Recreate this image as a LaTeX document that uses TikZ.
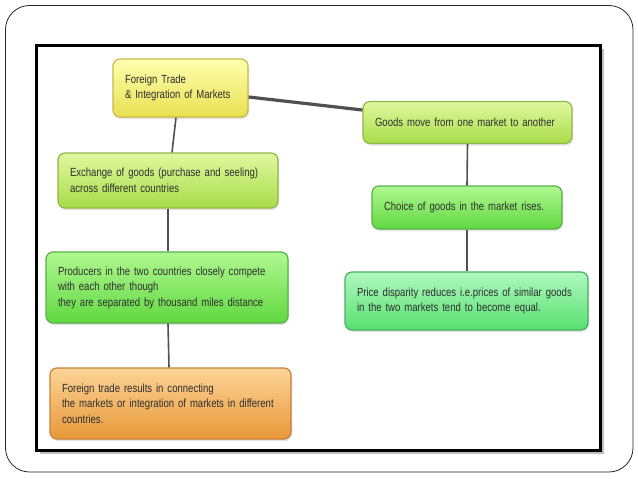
\documentclass[tikz,border=0pt]{standalone}
\usepackage{fontspec}
\setmainfont{Liberation Sans}[FakeStretch=0.81, WordSpace=0.7]
\usetikzlibrary{shadows}
\definecolor{txt}{HTML}{2E2E2E}
\definecolor{conn}{HTML}{505050}
\definecolor{yT}{HTML}{FFFFB0}\definecolor{yM}{HTML}{F8F478}\definecolor{yB}{HTML}{E8E050}\definecolor{yD}{HTML}{C8B848}
\definecolor{lT}{HTML}{E0F8A0}\definecolor{lM}{HTML}{C4EC74}\definecolor{lB}{HTML}{A8DC48}\definecolor{lD}{HTML}{90B848}
\definecolor{gT}{HTML}{B0F890}\definecolor{gM}{HTML}{80E860}\definecolor{gB}{HTML}{60D840}\definecolor{gD}{HTML}{58B048}
\definecolor{mT}{HTML}{B0F8C0}\definecolor{mM}{HTML}{80F090}\definecolor{mB}{HTML}{58E070}\definecolor{mD}{HTML}{48B060}
\definecolor{oT}{HTML}{FCD498}\definecolor{oM}{HTML}{F4B060}\definecolor{oB}{HTML}{E89838}\definecolor{oD}{HTML}{C88038}
\newcommand{\oneline}[1]{\mbox{#1}}
\tikzset{
  box/.style={rounded corners=7pt, line width=1.2pt, align=left, inner xsep=12pt, inner ysep=2pt,
    font=\fontsize{11.8}{15.5}\selectfont, text=txt,
    drop shadow={opacity=0.22, shadow xshift=1pt, shadow yshift=-2pt}},
  yel/.style={box, draw=yD, top color=yT, middle color=yM, bottom color=yB},
  lime/.style={box, draw=lD, top color=lT, middle color=lM, bottom color=lB},
  gre/.style={box, draw=gD, top color=gT, middle color=gM, bottom color=gB},
  mint/.style={box, draw=mD, top color=mT, middle color=mM, bottom color=mB},
  ora/.style={box, draw=oD, top color=oT, middle color=oM, bottom color=oB},
  link/.style={draw=conn, line width=1.6pt},
  thick link/.style={draw=conn, line width=3.2pt},
}
\begin{document}
\hbadness=10000 \hfuzz=200pt
\begin{tikzpicture}[x=1pt,y=-1pt]
\useasboundingbox (0,0) rectangle (638,479);
\fill[white] (0,0) rectangle (638,479);
% outer rounded frame
\draw[line width=0.8pt, draw=black!85, rounded corners=24pt] (5.5,5.5) rectangle (633,472);
% inner black frame with shadow
\fill[black!25] (40,49) rectangle (604,454);
\fill[white] (36,45) rectangle (600,450);
\draw[line width=3pt, black] (36,45) rectangle (600,450);

\node[yel, text width=111pt, minimum height=58pt] (ft) at (180.5,88) {\oneline{Foreign Trade}\\\oneline{\& Integration of Markets}};
\node[lime, text width=185pt, minimum height=42pt] (gm) at (467.5,122.5) {\oneline{Goods move from one market to another}};
\node[lime, text width=196pt, minimum height=55pt] (ex) at (168,180.5) {\oneline{Exchange of goods (purchase and seeling)}\\\oneline{across different countries}};
\node[gre, text width=166pt, minimum height=43pt] (ch) at (467,207.5) {\oneline{Choice of goods in the market rises.}};
\node[gre, text width=218pt, minimum height=71pt] (pr) at (167,287.5) {\oneline{Producers in the two countries closely compete}\\\oneline{with each other though}\\\oneline{they are separated by thousand miles distance}};
\node[mint, text width=219pt, minimum height=58pt] (pd) at (466.5,301) {\oneline{Price disparity reduces i.e.prices of similar goods}\\\oneline{in the two markets tend to become equal.}};
\node[ora, text width=217pt, minimum height=71pt] (fr) at (170.5,403.5) {\oneline{Foreign trade results in connecting}\\\oneline{the markets or integration of markets in different}\\\oneline{countries.}};

\draw[thick link] ([yshift=-9pt]ft.east) -- ([yshift=12.5pt]gm.west);
\draw[link] ([xshift=-4.5pt]ft.south) -- ([xshift=4pt]ex.north);
\draw[link] (ex.south) -- ([xshift=1pt]pr.north);
\draw[link] ([xshift=1pt]pr.south) -- ([xshift=-1.5pt]fr.north);
\draw[link] (gm.south) -- (ch.north);
\draw[link] (ch.south) -- ([xshift=0.5pt]pd.north);
\end{tikzpicture}
\end{document}
